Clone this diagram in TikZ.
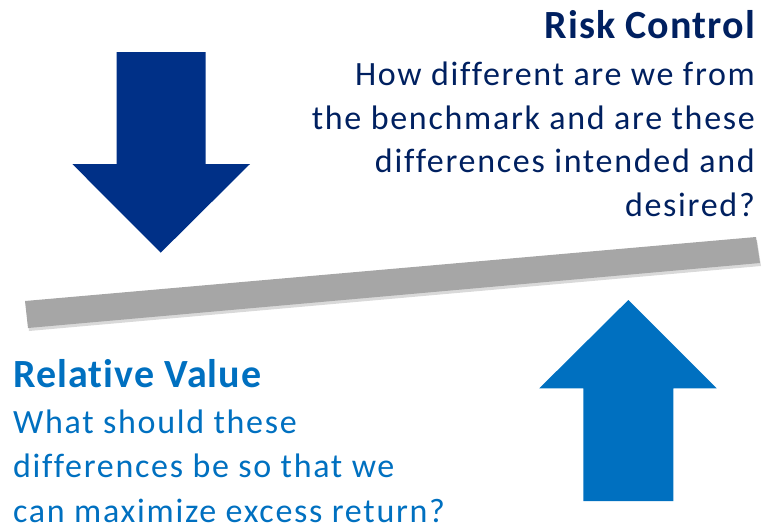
\documentclass[tikz,border=0pt]{standalone}
\usepackage{fontspec}
\setmainfont{Carlito}[Ligatures={TeX,NoCommon}]
\usetikzlibrary{positioning, shadows}
\definecolor{navytext}{RGB}{0,32,96}
\definecolor{navyarrow}{RGB}{0,48,135}
\definecolor{midblue}{RGB}{0,112,192}
\definecolor{beamgray}{RGB}{166,166,166}
\tikzset{
  hdr/.style={font=\fontsize{40}{44}\selectfont\bfseries\addfontfeatures{LetterSpace=2.7}, inner sep=0pt},
  txt/.style={font=\fontsize{34}{43.5}\selectfont\addfontfeatures{LetterSpace=5}, inner sep=0pt},
  beam/.style={fill=beamgray, drop shadow={shadow xshift=1pt, shadow yshift=-3pt, opacity=0.3}},
}

\begin{document}
\begin{tikzpicture}[
  x=1pt, y=-1pt,
  down/.style={fill=navyarrow},
  up/.style={fill=midblue}
]
  \useasboundingbox (0,0) rectangle (765,530);

  % tilted beam
  \path[beam] (25,301) -- (756,237) -- (760,263) -- (28,328) -- cycle;

  % the two block arrows
  \path[down] (116.7,52) -- (205.7,52) -- (205.7,164) -- (250,164)
    -- (160.7,252.7) -- (72.3,164) -- (116.7,164) -- cycle;
  \path[up] (583.3,501) -- (583.3,388.3) -- (539.3,388.3) -- (628.3,300)
    -- (716.7,388.3) -- (673.3,388.3) -- (673.3,501) -- cycle;

  \node[hdr, navytext, anchor=base east] (rctitle) at (755,38) {Risk Control};
  \node[txt, navytext, align=right, anchor=north east] (rctext) at (755,62)
    {How different are we from\\the benchmark and are these\\differences intended and\\desired?};

  \node[hdr, midblue, anchor=base west] (rvtitle) at (13,387) {Relative Value};
  \node[txt, midblue, align=left, anchor=north west] (rvtext) at (13,410)
    {What should these\\differences be so that we\\[2pt]can maximize excess return?};
\end{tikzpicture}
\end{document}
